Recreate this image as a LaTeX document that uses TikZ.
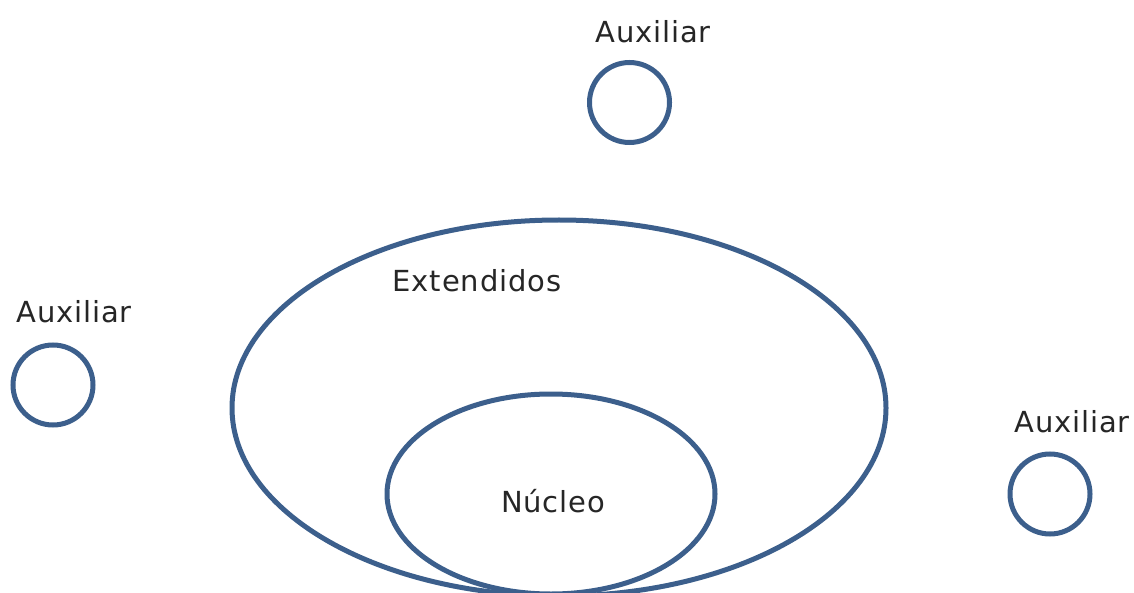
\documentclass[tikz,border=0pt]{standalone}
\usepackage{fontspec}
\setmainfont{DejaVu Sans}[LetterSpace=3]
\definecolor{ringblue}{HTML}{3C5F8C}
\definecolor{txt}{HTML}{262626}
\begin{document}
\begin{tikzpicture}[x=1pt,y=-1pt,
  ring/.style={draw=ringblue,line width=5pt},
  lbl/.style={text=txt,font=\fontsize{29}{32}\selectfont,anchor=base,inner sep=0pt}]
\useasboundingbox (0,0) rectangle (1134,593);
\begin{scope}
\clip (0,0) rectangle (1134,593);
\draw[ring] (559,408) ellipse [x radius=327, y radius=188];
\draw[ring] (551,494) ellipse [x radius=164, y radius=100];
\end{scope}
\draw[ring] (629.5,102.5) circle [radius=40];
\draw[ring] (53,385) circle [radius=40];
\draw[ring] (1050,494) circle [radius=40];
\node[lbl] (t1) at (653,43) {Auxiliar};
\node[lbl] (t2) at (74,323) {Auxiliar};
\node[lbl] (t3) at (1072,432) {Auxiliar};
\node[lbl] (t4) at (477,292) {Extendidos};
\node[lbl] (t5) at (553,512) {Núcleo};
\end{tikzpicture}
\end{document}
